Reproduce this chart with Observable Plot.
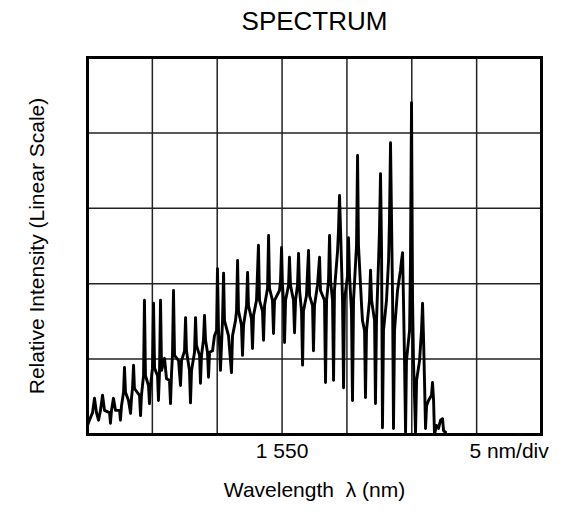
<!DOCTYPE html>
<html>
<head>
<meta charset="utf-8">
<script src="https://cdn.jsdelivr.net/npm/d3@7"></script>
<script src="https://cdn.jsdelivr.net/npm/@observablehq/plot@0.6"></script>
<style>
  html, body { margin: 0; padding: 0; background: #fff; }
</style>
</head>
<body>
<div id="chart"></div>
<script>
const titleText = "SPECTRUM";
const xLabel = "Wavelength  \u03bb (nm)";
const yLabel = "Relative Intensity (Linear Scale)";

// Wavelength (nm) of each traced point
const wavelength = [
  1535.00, 1535.15, 1535.39, 1535.54, 1535.69, 1535.85, 1536.00, 1536.16, 1536.31, 1536.70,
  1536.77, 1536.85, 1537.00, 1537.16, 1537.47, 1537.54, 1537.62, 1537.78, 1537.85, 1537.93,
  1538.16, 1538.32, 1538.39, 1538.47, 1538.55, 1538.62, 1539.01, 1539.09, 1539.16, 1539.32,
  1539.39, 1539.47, 1539.70, 1539.78, 1539.86, 1540.01, 1540.09, 1540.17, 1540.40, 1540.47,
  1540.55, 1540.63, 1540.71, 1540.94, 1541.09, 1541.32, 1541.40, 1541.48, 1541.55, 1541.63,
  1541.71, 1542.02, 1542.17, 1542.25, 1542.48, 1542.56, 1542.63, 1542.86, 1542.94, 1543.02,
  1543.25, 1543.33, 1543.40, 1543.64, 1543.71, 1543.79, 1543.94, 1544.02, 1544.10, 1544.25,
  1544.33, 1544.41, 1544.64, 1544.79, 1544.95, 1545.02, 1545.10, 1545.18, 1545.25, 1545.33,
  1545.41, 1545.49, 1545.56, 1545.87, 1546.10, 1546.18, 1546.41, 1546.49, 1546.57, 1546.64,
  1546.87, 1546.95, 1547.03, 1547.26, 1547.34, 1547.41, 1547.64, 1547.72, 1547.80, 1548.03,
  1548.18, 1548.26, 1548.49, 1548.57, 1548.65, 1548.88, 1548.96, 1549.03, 1549.26, 1549.34,
  1549.42, 1549.80, 1549.88, 1549.96, 1550.03, 1550.11, 1550.19, 1550.27, 1550.50, 1550.57,
  1550.65, 1550.88, 1550.96, 1551.04, 1551.19, 1551.27, 1551.35, 1551.50, 1551.58, 1551.65,
  1551.88, 1552.04, 1552.12, 1552.35, 1552.42, 1552.50, 1552.73, 1552.89, 1552.96, 1553.27,
  1553.35, 1553.43, 1553.58, 1553.66, 1553.74, 1553.89, 1553.97, 1554.04, 1554.28, 1554.35,
  1554.43, 1554.51, 1554.66, 1554.74, 1554.81, 1555.05, 1555.12, 1555.20, 1555.35, 1555.43,
  1555.51, 1555.74, 1555.82, 1555.89, 1556.13, 1556.20, 1556.36, 1556.43, 1556.51, 1556.74,
  1556.82, 1556.90, 1557.13, 1557.20, 1557.28, 1557.44, 1557.51, 1557.59, 1557.67, 1557.74,
  1557.82, 1558.05, 1558.21, 1558.28, 1558.36, 1558.44, 1558.52, 1558.59, 1558.67, 1558.90,
  1559.13, 1559.21, 1559.29, 1559.36, 1559.44, 1559.52, 1559.59, 1559.83, 1559.90, 1559.98,
  1560.06, 1560.13, 1560.29, 1560.37, 1560.60, 1560.75, 1560.83, 1560.91, 1560.98, 1561.06,
  1561.14, 1561.29, 1561.52, 1561.60, 1561.68, 1561.75, 1561.91, 1562.06, 1562.22, 1562.37,
  1562.45, 1562.60
];

// Relative intensity (in grid divisions, linear scale)
const intensity = [
  0.12, 0.19, 0.29, 0.48, 0.29, 0.19, 0.32, 0.52, 0.32, 0.29,
  0.15, 0.32, 0.48, 0.32, 0.32, 0.19, 0.38, 0.56, 0.89, 0.56,
  0.45, 0.28, 0.48, 0.61, 0.92, 0.61, 0.52, 0.25, 0.52, 0.78,
  1.78, 0.78, 0.65, 0.41, 0.65, 0.88, 1.74, 0.88, 0.78, 0.45,
  0.82, 1.78, 0.85, 1.01, 0.74, 0.72, 0.41, 0.82, 1.05, 1.91,
  1.05, 0.98, 0.65, 0.98, 1.11, 1.55, 1.11, 0.85, 0.42, 0.85,
  1.09, 1.55, 1.18, 1.05, 0.68, 1.05, 1.25, 1.58, 1.25, 1.09,
  0.76, 1.09, 1.11, 1.31, 1.38, 2.20, 1.38, 1.18, 0.85, 1.18,
  1.51, 2.14, 1.51, 1.31, 0.82, 1.31, 1.51, 1.64, 2.31, 1.64,
  1.45, 1.05, 1.45, 1.71, 2.15, 1.71, 1.54, 1.14, 1.58, 1.78,
  2.51, 1.78, 1.64, 1.25, 1.71, 1.94, 2.64, 1.94, 1.78, 1.34,
  1.78, 1.91, 2.04, 2.48, 1.98, 1.78, 1.22, 1.78, 1.98, 2.35,
  1.98, 1.78, 1.35, 1.78, 1.98, 2.40, 1.91, 1.64, 0.92, 1.64,
  1.84, 2.44, 1.84, 1.71, 1.11, 1.71, 1.98, 2.35, 1.91, 1.78,
  0.69, 1.78, 2.04, 2.64, 2.04, 1.78, 0.72, 1.91, 2.44, 2.71,
  3.17, 2.71, 1.78, 0.62, 1.78, 2.11, 2.61, 2.11, 1.64, 0.45,
  1.78, 2.51, 3.70, 2.51, 1.71, 1.51, 1.38, 0.49, 1.38, 1.78,
  2.18, 1.78, 1.51, 0.41, 1.51, 2.31, 2.71, 3.46, 2.44, 0.09,
  1.38, 1.78, 2.31, 2.84, 3.87, 2.84, 1.78, 0.08, 1.38, 1.91,
  2.18, 2.31, 2.41, 1.78, 0.98, 0.03, 0.98, 1.38, 2.31, 4.40,
  1.78, 0.98, 0.03, 0.72, 0.98, 1.38, 1.74, 1.25, 0.72, 0.08,
  0.38, 0.45, 0.52, 0.69, 0.45, 0.00, 0.12, 0.08, 0.19, 0.21,
  0.05, 0.03
];

const xGrid = [1540, 1545, 1550, 1555, 1560, 1565];
const yGrid = [1, 2, 3, 4];
const xTickValues = [1550, 1567.5];
const xTickLabels = ["1 550", "5 nm/div"];

const data = wavelength.map((w, i) => ({w, v: intensity[i]}));

const chart = Plot.plot({
  width: 563,
  height: 514,
  marginLeft: 87,
  marginRight: 22,
  marginTop: 57,
  marginBottom: 80,
  x: {domain: [1535, 1570], axis: null},
  y: {domain: [0, 5], axis: null},
  style: {fontFamily: "'Liberation Sans', Arial, Helvetica, sans-serif", background: "#fff", color: "#000"},
  marks: [
    Plot.ruleX(xGrid, {stroke: "#222", strokeWidth: 1.5}),
    Plot.ruleY(yGrid, {stroke: "#222", strokeWidth: 1.5}),
    Plot.line(data, {x: "w", y: "v", stroke: "#000", strokeWidth: 2.9, strokeLinejoin: "round"}),
    Plot.frame({stroke: "#000", strokeWidth: 3}),
    Plot.text(xTickValues, {x: d => d, text: (d, i) => xTickLabels[i], frameAnchor: "bottom", lineAnchor: "middle", dy: 17, fontSize: 21, fill: "#000"}),
    Plot.text([xLabel], {text: d => d, frameAnchor: "bottom", lineAnchor: "middle", dy: 56, fontSize: 21, fill: "#000"}),
    Plot.text([yLabel], {text: d => d, frameAnchor: "left", textAnchor: "middle", lineAnchor: "middle", dx: -50, rotate: -90, fontSize: 21, fill: "#000"}),
    Plot.text([titleText], {text: d => d, frameAnchor: "top", lineAnchor: "middle", dy: -36, fontSize: 26, fill: "#000"})
  ]
});
document.getElementById("chart").appendChild(chart);
</script>
</body>
</html>
